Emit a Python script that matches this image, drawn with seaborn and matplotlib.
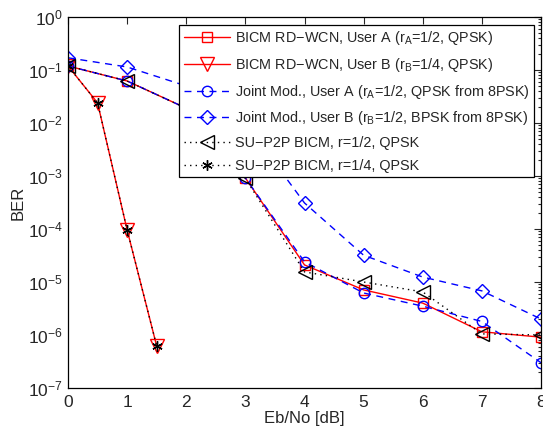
import matplotlib
matplotlib.use("Agg")
import matplotlib.pyplot as plt
import seaborn as sns
import numpy as np
import pandas as pd
from matplotlib.ticker import LogLocator, NullFormatter

sns.set_style("white")
plt.rcParams['font.family'] = ['Liberation Sans', 'DejaVu Sans']
plt.rcParams['mathtext.fontset'] = 'custom'
plt.rcParams['mathtext.rm'] = 'Liberation Sans'
plt.rcParams['mathtext.it'] = 'Liberation Sans'

# Data
ebno_full = [0, 1, 2, 3, 4, 5, 6, 7, 8]
ebno_low = [0, 0.5, 1, 1.5]

bicm_a = [0.119, 0.062, 0.019, 9.2e-4, 2.1e-5, 7.1e-6, 4.0e-6, 1.15e-6, 9.1e-7]
bicm_b = [0.119, 0.024, 9.6e-5, 6.2e-7]
joint_a = [0.119, 0.062, 0.019, 9.2e-4, 2.4e-5, 6.2e-6, 3.5e-6, 1.8e-6, 3.0e-7]
joint_b = [0.17, 0.114, 0.05, 1.0e-2, 3.1e-4, 3.2e-5, 1.24e-5, 6.8e-6, 2.0e-6]
su_half = [0.119, 0.062, 0.019, 9.0e-4, 1.55e-5, 1.0e-5, 6.5e-6, 1.05e-6, 1.0e-6]
su_quarter = [0.119, 0.024, 9.6e-5, 6.2e-7]

labels = [
    r"BICM RD$-$WCN, User A (r$_\mathregular{A}$=1/2, QPSK)",
    r"BICM RD$-$WCN, User B (r$_\mathregular{B}$=1/4, QPSK)",
    r"Joint Mod., User A (r$_\mathregular{A}$=1/2, QPSK from 8PSK)",
    r"Joint Mod., User B (r$_\mathregular{B}$=1/2, BPSK from 8PSK)",
    "SU\u2212P2P BICM, r=1/2, QPSK",
    "SU\u2212P2P BICM, r=1/4, QPSK",
]

fig = plt.figure(figsize=(5.43, 4.37), dpi=100)
ax = fig.add_axes([68/543, 1-388/437, (541-68)/543, (388-17)/437])

ms = 7.5
series = [
    (ebno_full, bicm_a, dict(color='red', linestyle='-', marker='s', markerfacecolor='none', markeredgecolor='red')),
    (ebno_low, bicm_b, dict(color='red', linestyle='-', marker='v', markerfacecolor='none', markeredgecolor='red', markersize=ms+2)),
    (ebno_full, joint_a, dict(color='blue', linestyle=(0, (5, 4)), marker='o', markerfacecolor='none', markeredgecolor='blue')),
    (ebno_full, joint_b, dict(color='blue', linestyle=(0, (5, 4)), marker='D', markerfacecolor='none', markeredgecolor='blue', markersize=ms-0.5)),
    (ebno_full, su_half, dict(color='black', linestyle=(0, (1, 3)), marker='<', markerfacecolor='none', markeredgecolor='black', markersize=ms+2)),
    (ebno_low, su_quarter, dict(color='black', linestyle=(0, (1, 3)), marker=(6, 2, 0), markeredgecolor='black', markersize=ms)),
]
for (x, y, kw), lab in zip(series, labels):
    df = pd.DataFrame({'x': x, 'y': y})
    kw.setdefault('markersize', ms)
    sns.lineplot(data=df, x='x', y='y', ax=ax, label=lab, linewidth=1.0,
                 markeredgewidth=1.0, **kw)

ax.set_yscale('log')
ax.set_xlim(0, 8)
ax.set_ylim(1e-7, 1)
ax.set_xticks(range(0, 9))
ax.yaxis.set_major_locator(LogLocator(base=10, numticks=20))
ax.yaxis.set_minor_locator(LogLocator(base=10, subs=np.arange(2, 10), numticks=20))
ax.yaxis.set_minor_formatter(NullFormatter())
ax.set_xlabel("Eb/No [dB]", fontsize=12, labelpad=1)
ax.set_ylabel("BER", fontsize=12, labelpad=2)
ax.tick_params(axis='both', which='both', direction='in', top=True, right=True,
               labelsize=12.5, width=0.8)
ax.tick_params(which='major', length=5)
ax.tick_params(which='minor', length=2.5)
ax.tick_params(axis='x', pad=5)
for s in ax.spines.values():
    s.set_visible(True)
    s.set_color('black')
    s.set_linewidth(0.9)

leg = ax.legend(loc='upper right', bbox_to_anchor=(1 - 7/473, 1 - 8/371), fontsize=10.4,
                frameon=True, fancybox=False, edgecolor='black', framealpha=1,
                handlelength=3.2, borderpad=0.3, labelspacing=0.6, handletextpad=0.35,
                borderaxespad=0)
leg.get_frame().set_linewidth(0.9)

fig.savefig("out.png", dpi=100)
